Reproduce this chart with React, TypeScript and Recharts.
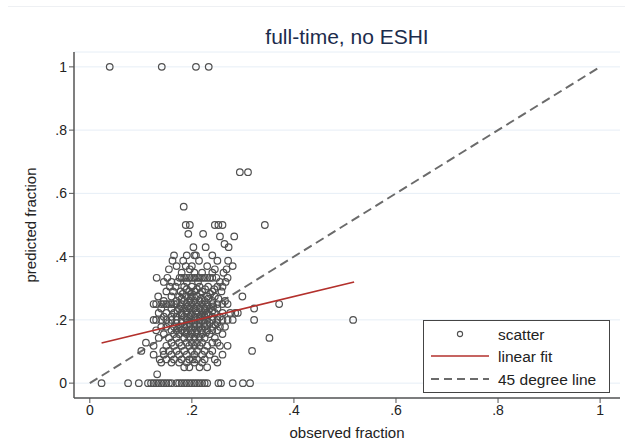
import { ScatterChart, Scatter, XAxis, YAxis, CartesianGrid, Label } from "recharts";

const X_TICKS = [0, 0.2, 0.4, 0.6, 0.8, 1];
const Y_TICKS = [0, 0.2, 0.4, 0.6, 0.8, 1];

// observed x by predicted-y row
const ROWS: [number, number[]][] = [
  [1, [0.039, 0.141, 0.208, 0.233]],
  [0.667, [0.294, 0.31]],
  [0.558, [0.184]],
  [0.5, [0.188, 0.196, 0.245, 0.252, 0.26, 0.343]],
  [0.472, [0.193, 0.222]],
  [0.464, [0.255, 0.283]],
  [0.44, [0.264]],
  [0.43, [0.203, 0.227, 0.272]],
  [0.404, [0.165, 0.19, 0.205, 0.208, 0.24]],
  [0.387, [0.162, 0.183, 0.214, 0.25, 0.271]],
  [0.37, [0.17, 0.188, 0.2, 0.23, 0.28]],
  [0.36, [0.155, 0.196, 0.245, 0.268]],
  [0.349, [0.18, 0.205, 0.22, 0.24, 0.262]],
  [0.333, [0.131, 0.152, 0.176, 0.18, 0.185, 0.19, 0.195, 0.2, 0.205, 0.21, 0.215, 0.22, 0.225, 0.23, 0.235, 0.24, 0.248, 0.27]],
  [0.32, [0.145, 0.16, 0.172, 0.19, 0.212, 0.255, 0.266]],
  [0.305, [0.157, 0.168, 0.185, 0.2, 0.215, 0.232, 0.25, 0.26]],
  [0.297, [0.19, 0.21, 0.226, 0.244]],
  [0.29, [0.15, 0.163, 0.178, 0.195, 0.205, 0.22, 0.24, 0.258]],
  [0.282, [0.182, 0.198, 0.216, 0.236]],
  [0.274, [0.134, 0.16, 0.175, 0.19, 0.2, 0.21, 0.23, 0.245, 0.299]],
  [0.267, [0.18, 0.198, 0.218, 0.232, 0.252]],
  [0.26, [0.145, 0.17, 0.185, 0.195, 0.205, 0.215, 0.225, 0.24, 0.265]],
  [0.25, [0.125, 0.13, 0.14, 0.145, 0.15, 0.155, 0.16, 0.165, 0.17, 0.18, 0.19, 0.2, 0.21, 0.22, 0.23, 0.24, 0.25, 0.26, 0.27, 0.371]],
  [0.243, [0.178, 0.192, 0.21, 0.228, 0.242]],
  [0.236, [0.14, 0.16, 0.175, 0.185, 0.195, 0.205, 0.215, 0.225, 0.235, 0.25, 0.322]],
  [0.228, [0.172, 0.19, 0.208, 0.226, 0.24]],
  [0.222, [0.135, 0.15, 0.165, 0.18, 0.19, 0.2, 0.21, 0.22, 0.23, 0.245, 0.26, 0.275, 0.285, 0.29]],
  [0.215, [0.18, 0.198, 0.218, 0.232]],
  [0.21, [0.145, 0.16, 0.17, 0.185, 0.195, 0.205, 0.215, 0.225, 0.24, 0.255]],
  [0.2, [0.125, 0.13, 0.14, 0.15, 0.16, 0.17, 0.18, 0.19, 0.2, 0.21, 0.22, 0.23, 0.24, 0.25, 0.26, 0.27, 0.28, 0.322, 0.516]],
  [0.19, [0.155, 0.17, 0.18, 0.195, 0.205, 0.215, 0.225, 0.235, 0.25]],
  [0.184, [0.19, 0.21, 0.23, 0.246]],
  [0.178, [0.14, 0.15, 0.165, 0.175, 0.185, 0.195, 0.205, 0.215, 0.225, 0.24, 0.255, 0.265]],
  [0.167, [0.13, 0.16, 0.17, 0.18, 0.19, 0.2, 0.21, 0.22, 0.23, 0.24, 0.25]],
  [0.16, [0.185, 0.206, 0.228]],
  [0.155, [0.145, 0.165, 0.175, 0.19, 0.2, 0.21, 0.22, 0.235, 0.26]],
  [0.143, [0.135, 0.155, 0.17, 0.185, 0.195, 0.205, 0.215, 0.225, 0.245, 0.352]],
  [0.128, [0.11, 0.16, 0.175, 0.19, 0.2, 0.21, 0.22, 0.24, 0.25]],
  [0.118, [0.125, 0.15, 0.165, 0.18, 0.195, 0.205, 0.215, 0.23, 0.255, 0.27]],
  [0.102, [0.101, 0.144, 0.155, 0.17, 0.185, 0.2, 0.21, 0.225, 0.24, 0.318]],
  [0.09, [0.125, 0.145, 0.16, 0.175, 0.19, 0.205, 0.22, 0.235, 0.26]],
  [0.075, [0.137, 0.15, 0.165, 0.18, 0.195, 0.202, 0.21, 0.225, 0.245]],
  [0.065, [0.14, 0.16, 0.175, 0.19, 0.205, 0.22, 0.25]],
  [0.05, [0.185, 0.195, 0.215, 0.23]],
  [0.028, [0.132]],
  [0, [0.023, 0.075, 0.096, 0.114, 0.12, 0.125, 0.13, 0.135, 0.14, 0.145, 0.15, 0.155, 0.16, 0.17, 0.175, 0.18, 0.185, 0.19, 0.195, 0.2, 0.205, 0.21, 0.215, 0.22, 0.225, 0.23, 0.252, 0.257, 0.28, 0.3, 0.314]],
];

const FIT_X = [0.023, 0.518];
const FIT_Y = [0.127, 0.32];
const DIAG = [0, 1];

const scatterData = ROWS.flatMap(([y, xs]) => xs.map((x) => ({ x, y })));
const fitData = FIT_X.map((x, i) => ({ x, y: FIT_Y[i] }));
const diagData = DIAG.map((v) => ({ x: v, y: v }));

const FONT = "'Liberation Sans', Arial, sans-serif";
const MARKER = "#505050";
const FIT_RED = "#b3302c";
const DASH_GRAY = "#6b6b6b";

const fmt = (v: number) => (v === 0 ? "0" : v === 1 ? "1" : String(v).replace("0.", "."));

const Hollow = (p: any) => (
  <circle cx={p.cx} cy={p.cy} r={3.3} fill="none" stroke={MARKER} strokeWidth={1.2} />
);
const Nothing = () => <g />;

const LegendBox = () => (
  <svg width={188} height={74} style={{ display: "block" }}>
    <rect x={0.5} y={0.5} width={186} height={72} fill="#fff" stroke="#444" strokeWidth={1} />
    <circle cx={37} cy={14} r={2.6} fill="none" stroke={MARKER} strokeWidth={1.1} />
    <line x1={8} x2={66} y1={36} y2={36} stroke={FIT_RED} strokeWidth={1.6} />
    <line x1={8} x2={66} y1={59} y2={59} stroke={DASH_GRAY} strokeWidth={2} strokeDasharray="8 5" />
    <g fontFamily={FONT} fontSize={15.5} fill="#222">
      <text x={75} y={20}>scatter</text>
      <text x={75} y={42}>linear fit</text>
      <text x={75} y={65}>45 degree line</text>
    </g>
  </svg>
);

export default function App() {
  return (
    <div style={{ position: "absolute", left: 0, top: 0, width: 625, height: 446, background: "#fff" }}>
      <div style={{ position: "absolute", left: 8, right: 0, top: 6, borderTop: "1px solid #eef0f3" }} />
      <div
        style={{
          position: "absolute",
          left: 74,
          width: 546,
          top: 25,
          textAlign: "center",
          fontFamily: FONT,
          fontSize: 21,
          color: "#1c2c4c",
        }}
      >
        full-time, no ESHI
      </div>
      <ScatterChart width={625} height={446} margin={{ top: 52, right: 5, bottom: 0, left: 0 }}>
        <CartesianGrid vertical={false} stroke="#e6eef6" strokeWidth={1} />
        <XAxis
          type="number"
          dataKey="x"
          domain={[-0.031, 1.039]}
          ticks={X_TICKS}
          tickFormatter={fmt}
          height={48}
          axisLine={{ stroke: "#555", strokeWidth: 1.5 }}
          tickLine={{ stroke: "#555" }}
          tickSize={5}
          tick={{ fontSize: 14, fill: "#222", fontFamily: FONT }}
          allowDataOverflow
        >
          <Label value="observed fraction" position="insideBottom" offset={8} style={{ fontSize: 15, fill: "#222", fontFamily: FONT }} />
        </XAxis>
        <YAxis
          type="number"
          dataKey="y"
          domain={[-0.047, 1.047]}
          ticks={Y_TICKS}
          tickFormatter={fmt}
          width={74}
          axisLine={{ stroke: "#555", strokeWidth: 1.5 }}
          tickLine={{ stroke: "#555" }}
          tickSize={5}
          tick={{ fontSize: 14, fill: "#222", fontFamily: FONT }}
          allowDataOverflow
        >
          <Label value="predicted fraction" angle={-90} position="insideLeft" offset={31} style={{ fontSize: 15, fill: "#222", fontFamily: FONT, textAnchor: "middle" }} />
        </YAxis>
        <Scatter data={diagData} line={{ stroke: DASH_GRAY, strokeWidth: 2, strokeDasharray: "9 5" }} shape={Nothing} isAnimationActive={false} legendType="none" />
        <Scatter data={scatterData} shape={Hollow} isAnimationActive={false} />
        <Scatter data={fitData} line={{ stroke: FIT_RED, strokeWidth: 1.6 }} shape={Nothing} isAnimationActive={false} legendType="none" />
      </ScatterChart>
      <div style={{ position: "absolute", left: 423, top: 320 }}>
        <LegendBox />
      </div>
    </div>
  );
}
